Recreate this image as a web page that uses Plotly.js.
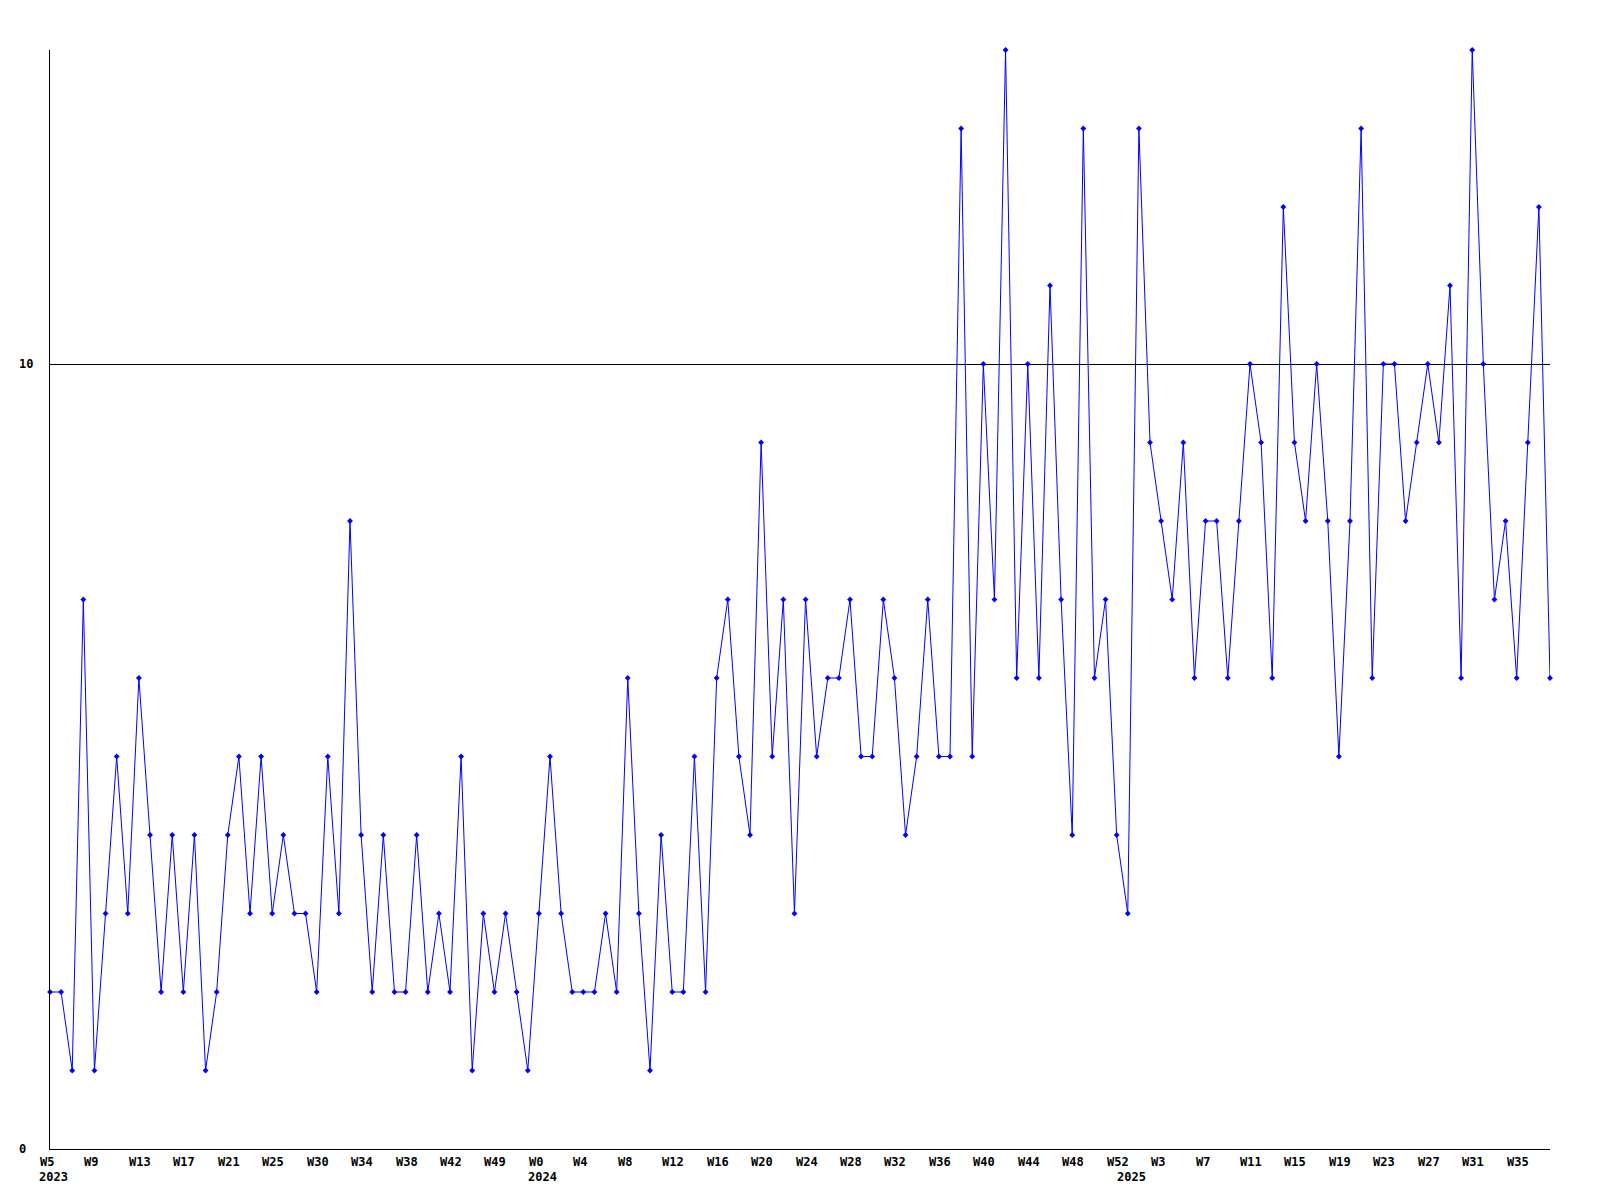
<!DOCTYPE html>
<html>
<head>
<meta charset="utf-8">
<script src="https://cdn.plot.ly/plotly-3.0.1.min.js"></script>
<style>
  html, body { margin: 0; padding: 0; background: #ffffff; }
  #chart { width: 1600px; height: 1200px; }
</style>
</head>
<body>
<div id="chart"></div>
<script>
// Week categories (one per point)
const weeks = [
  "2023 W5","2023 W6","2023 W7","2023 W8","2023 W9","2023 W10","2023 W11","2023 W12",
  "2023 W13","2023 W14","2023 W15","2023 W16","2023 W17","2023 W18","2023 W19","2023 W20",
  "2023 W21","2023 W22","2023 W23","2023 W24","2023 W25","2023 W26","2023 W27","2023 W29",
  "2023 W30","2023 W31","2023 W32","2023 W33","2023 W34","2023 W35","2023 W36","2023 W37",
  "2023 W38","2023 W39","2023 W40","2023 W41","2023 W42","2023 W43","2023 W45","2023 W47",
  "2023 W49","2023 W50","2023 W51","2023 W52",
  "2024 W0","2024 W1","2024 W2","2024 W3","2024 W4","2024 W5","2024 W6","2024 W7",
  "2024 W8","2024 W9","2024 W10","2024 W11","2024 W12","2024 W13","2024 W14","2024 W15",
  "2024 W16","2024 W17","2024 W18","2024 W19","2024 W20","2024 W21","2024 W22","2024 W23",
  "2024 W24","2024 W25","2024 W26","2024 W27","2024 W28","2024 W29","2024 W30","2024 W31",
  "2024 W32","2024 W33","2024 W34","2024 W35","2024 W36","2024 W37","2024 W38","2024 W39",
  "2024 W40","2024 W41","2024 W42","2024 W43","2024 W44","2024 W45","2024 W46","2024 W47",
  "2024 W48","2024 W49","2024 W50","2024 W51","2024 W52",
  "2025 W0","2025 W1","2025 W2","2025 W3","2025 W4","2025 W5","2025 W6","2025 W7",
  "2025 W8","2025 W9","2025 W10","2025 W11","2025 W12","2025 W13","2025 W14","2025 W15",
  "2025 W16","2025 W17","2025 W18","2025 W19","2025 W20","2025 W21","2025 W22","2025 W23",
  "2025 W24","2025 W25","2025 W26","2025 W27","2025 W28","2025 W29","2025 W30","2025 W31",
  "2025 W32","2025 W33","2025 W34","2025 W35","2025 W36","2025 W37","2025 W38"
];

// Weekly counts
const counts = [
  2,2,1,7,1,3,5,3,6,4,2,4,2,4,1,2,4,5,3,5,3,4,3,3,
  2,5,3,8,4,2,4,2,2,4,2,3,2,5,1,3,2,3,2,1,3,5,3,2,2,2,3,2,6,3,1,4,2,2,5,2,
  6,7,5,4,9,5,7,3,7,5,6,6,7,5,5,7,6,4,5,7,5,5,13,5,10,7,14,6,10,6,11,7,4,13,6,7,4,3,
  13,9,8,7,9,6,8,8,6,8,10,9,6,12,9,8,10,8,5,8,13,6,10,10,8,9,10,9,11,6,14,10,7,8,6,9,12,6
];

// X tick labels (every 4th week) and their categories
const tickWeeks = [
  "2023 W5","2023 W9","2023 W13","2023 W17","2023 W21","2023 W25","2023 W30","2023 W34",
  "2023 W38","2023 W42","2023 W49","2024 W0","2024 W4","2024 W8","2024 W12","2024 W16",
  "2024 W20","2024 W24","2024 W28","2024 W32","2024 W36","2024 W40","2024 W44","2024 W48",
  "2024 W52","2025 W3","2025 W7","2025 W11","2025 W15","2025 W19","2025 W23","2025 W27",
  "2025 W31","2025 W35"
];
const tickText = [
  "W5","W9","W13","W17","W21","W25","W30","W34","W38","W42","W49","W0","W4","W8","W12","W16",
  "W20","W24","W28","W32","W36","W40","W44","W48","W52","W3","W7","W11","W15","W19","W23","W27",
  "W31","W35"
];

// Year labels and where they start
const yearWeeks = ["2023 W5","2024 W0","2025 W0"];
const yearText = ["2023","2024","2025"];

// Y tick labels
const yTicks = [0, 10];
const yTickText = ["0", "10"];

const labelFont = { family: "DejaVu Sans Mono, Liberation Mono, monospace", size: 12, color: "#000000", weight: "bold" };

const annotations = [];
tickWeeks.forEach((w, i) => {
  annotations.push({
    x: w, xref: "x", y: 0, yref: "paper",
    text: "<b>" + tickText[i] + "</b>", showarrow: false,
    xanchor: "left", yanchor: "top", xshift: -12, yshift: -4,
    font: labelFont
  });
});
yearWeeks.forEach((w, i) => {
  annotations.push({
    x: w, xref: "x", y: 0, yref: "paper",
    text: "<b>" + yearText[i] + "</b>", showarrow: false,
    xanchor: "left", yanchor: "top", xshift: -13, yshift: -19,
    font: labelFont
  });
});
yTicks.forEach((v, i) => {
  annotations.push({
    x: 0, xref: "paper", y: v, yref: "y",
    text: "<b>" + yTickText[i] + "</b>", showarrow: false,
    xanchor: "left", yanchor: "middle", xshift: -33,
    font: labelFont
  });
});

const trace = {
  type: "scatter",
  mode: "lines+markers",
  x: weeks,
  y: counts,
  line: { color: "#0000ff", width: 1 },
  marker: { symbol: "diamond", size: 4.5, color: "#0000ff" },
  cliponaxis: false,
  hoverinfo: "x+y"
};

const layout = {
  width: 1600,
  height: 1200,
  margin: { l: 50, r: 50, t: 50, b: 51, pad: 0 },
  paper_bgcolor: "#ffffff",
  plot_bgcolor: "#ffffff",
  showlegend: false,
  xaxis: {
    type: "category",
    categoryorder: "array",
    categoryarray: weeks,
    range: [0, weeks.length - 1],
    showgrid: false,
    zeroline: false,
    showline: true,
    linecolor: "#000000",
    linewidth: 1,
    showticklabels: false,
    ticks: "",
    fixedrange: true
  },
  yaxis: {
    range: [0, 14],
    tickvals: yTicks,
    showticklabels: false,
    ticks: "",
    showgrid: true,
    gridcolor: "#000000",
    gridwidth: 1,
    zeroline: false,
    showline: true,
    linecolor: "#000000",
    linewidth: 1,
    fixedrange: true
  },
  annotations: annotations
};

Plotly.newPlot("chart", [trace], layout, { displayModeBar: false, staticPlot: true });
</script>
</body>
</html>
